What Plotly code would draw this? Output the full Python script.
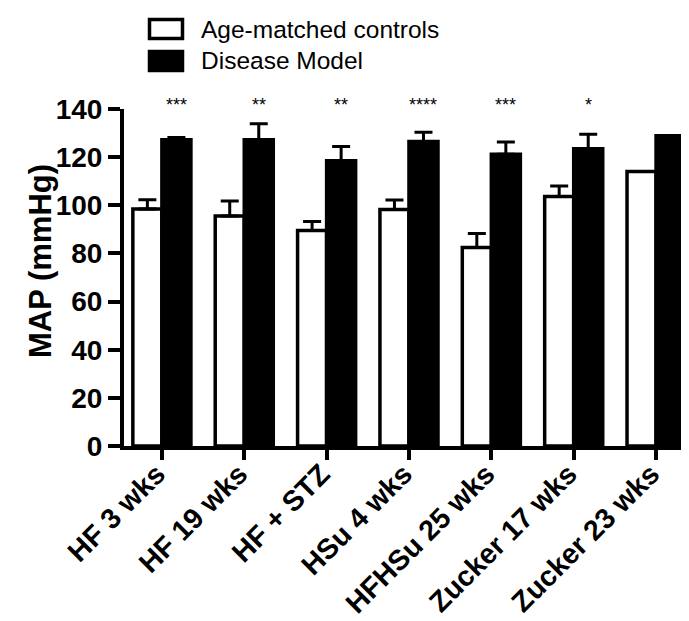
import plotly.graph_objects as go

categories = ["HF 3 wks", "HF 19 wks", "HF + STZ", "HSu 4 wks", "HFHSu 25 wks", "Zucker 17 wks", "Zucker 23 wks"]
series_names = ["Age-matched controls", "Disease Model"]
controls = [98.5, 95.5, 89.5, 98.2, 82.5, 103.6, 114.0]
controls_err = [3.8, 6.3, 3.8, 4.0, 5.8, 4.4, None]
disease = [127.2, 127.2, 118.5, 126.5, 121.2, 123.5, 128.9]
disease_err = [1.0, 6.7, 5.9, 3.8, 5.1, 6.0, None]
stars = ["***", "**", "**", "****", "***", "*", ""]
y_ticks = [0, 20, 40, 60, 80, 100, 120, 140]
y_title = "MAP (mmHg)"

# the page body has an 8px margin; the figure is sized to fill the rest of the window
OFF = 8
W, H = 689 - OFF, 621 - OFF
ML, MR, MT, MB = 124 - OFF, 0, 109 - OFF, 621 - 446
BARGAP = 0.295
FONT = "Liberation Sans, Arial, sans-serif"
PW, PH = W - ML - MR, H - MT - MB

def px_x(p):
    return (p - OFF - ML) / PW

def px_y(p):
    return (H - MB - (p - OFF)) / PH

x = list(range(len(categories)))
err_style = dict(type="data", symmetric=False, color="black", thickness=3, width=9)

fig = go.Figure()
fig.add_trace(go.Bar(
    x=x, y=controls, name=series_names[0],
    marker=dict(color="white", line=dict(color="black", width=3.5)),
    error_y=dict(array=controls_err, arrayminus=[0] * len(x), **err_style),
))
fig.add_trace(go.Bar(
    x=x, y=disease, name=series_names[1],
    marker=dict(color="black", line=dict(color="black", width=3.5)),
    error_y=dict(array=disease_err, arrayminus=[0] * len(x), **err_style),
))

offset = (1 - BARGAP) / 4
for i, s in enumerate(stars):
    if s:
        fig.add_annotation(x=i + offset, xref="x", y=1, yref="paper", text=s,
                           showarrow=False, yanchor="middle", yshift=4,
                           font=dict(family=FONT, size=18, color="black"))

# custom legend
legend_rows = [(18, 40, "white"), (50, 72, "black")]
for (y0, y1, fill), name in zip(legend_rows, series_names):
    fig.add_shape(type="rect", xref="paper", yref="paper",
                  x0=px_x(149.5), x1=px_x(182.5), y0=px_y(y0 + 1.5), y1=px_y(y1 - 1.5),
                  fillcolor=fill, line=dict(color="black", width=3.5))
    fig.add_annotation(xref="paper", yref="paper", x=px_x(199), y=px_y((y0 + y1) / 2),
                       text=name, showarrow=False, xanchor="left", yanchor="middle",
                       font=dict(family=FONT, size=24.5, color="black"))

# y-axis title
fig.add_annotation(xref="paper", yref="paper", x=px_x(40), y=px_y(261),
                   text=y_title, textangle=-90, showarrow=False,
                   xanchor="center", yanchor="middle",
                   font=dict(family=FONT, size=31, color="black", weight="bold"))

fig.update_layout(
    width=W, height=H,
    margin=dict(l=ML, r=MR, t=MT, b=MB, autoexpand=False),
    barmode="group", bargap=BARGAP, bargroupgap=0,
    plot_bgcolor="white", paper_bgcolor="white",
    showlegend=False,
    font=dict(family=FONT, color="black"),
)
fig.update_xaxes(
    range=[-0.46, 6.40], tickmode="array", tickvals=x, ticktext=categories,
    tickangle=-45, ticks="outside", ticklen=10, tickwidth=3.5, tickcolor="black",
    ticklabelshift=-5, ticklabelstandoff=-14, automargin=False,
    showline=True, linewidth=4, linecolor="black", showgrid=False, zeroline=False,
    tickfont=dict(family=FONT, size=28.5, color="black", weight="bold"),
)
fig.update_yaxes(
    range=[0, 140], tickmode="array", tickvals=y_ticks, automargin=False,
    ticks="outside", ticklen=12, tickwidth=3.5, tickcolor="black",
    showline=True, linewidth=4, linecolor="black", showgrid=False, zeroline=False,
    tickfont=dict(family=FONT, size=28, color="black", weight="bold"),
)

fig.write_html("out.html")
